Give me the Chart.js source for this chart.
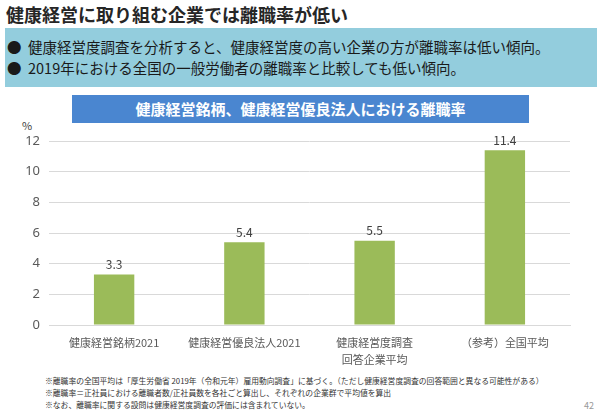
<!DOCTYPE html>
<html lang="ja">
<head>
<meta charset="utf-8">
<script src="https://cdn.jsdelivr.net/npm/chart.js@4"></script>
<style>
  body { margin: 0; width: 600px; height: 417px; background: #fff; position: relative; overflow: hidden;
         font-family: "Noto Sans CJK JP", "Noto Sans", sans-serif; color: #404040; }
  .abs { position: absolute; white-space: nowrap; }
  #title { left: 6px; top: 2px; font-size: 18px; font-weight: bold; color: #262626; line-height: 24px; }
  #points { left: 5px; top: 28px; width: 592px; height: 59px; background: #93cddd; }
  #points div { position: absolute; left: 2px; font-size: 14.5px; color: #1a1a1a; line-height: 20px; }
  #head { left: 72px; top: 95px; width: 457px; height: 28px; background: #4a86d0; color: #fff;
          font-size: 15px; font-weight: bold; text-align: center; line-height: 28px; }
  #unit { left: 22px; top: 117px; font-size: 11px; line-height: 16px; }
  #chartbox { position: absolute; left: 0; top: 120px; width: 600px; height: 250px; }
  .note { left: 45px; font-size: 7.8px; line-height: 11px; color: #333; }
  #page { left: 584px; top: 399px; font-size: 9px; color: #999; }
</style>
</head>
<body>
<div class="abs" id="title">健康経営に取り組む企業では離職率が低い</div>
<div class="abs" id="points">
  <div style="top:9px">●&nbsp;&nbsp;健康経営度調査を分析すると、健康経営度の高い企業の方が離職率は低い傾向。</div>
  <div style="top:30px">●&nbsp;&nbsp;2019年における全国の一般労働者の離職率と比較しても低い傾向。</div>
</div>
<div class="abs" id="head">健康経営銘柄、健康経営優良法人における離職率</div>
<div class="abs" id="unit">%</div>
<div id="chartbox"><canvas id="myChart" width="600" height="250"></canvas></div>
<div class="abs note" style="top:375px">※離職率の全国平均は「厚生労働省 2019年（令和元年）雇用動向調査」に基づく。（ただし健康経営度調査の回答範囲と異なる可能性がある）</div>
<div class="abs note" style="top:387px">※離職率＝正社員における離職者数/正社員数を各社ごと算出し、それぞれの企業群で平均値を算出</div>
<div class="abs note" style="top:399px">※なお、離職率に関する設問は健康経営度調査の評価には含まれていない。</div>
<div class="abs" id="page">42</div>

<script>
// chart data
const categories = [
    "健康経営銘柄2021",
    "健康経営優良法人2021",
    ["健康経営度調査", "回答企業平均"],
    "（参考）全国平均"
];
const rates = [3.3, 5.4, 5.5, 11.4];
const yTicks = [0, 2, 4, 6, 8, 10, 12];

// draw value above each bar
const valueLabels = {
    id: 'valueLabels',
    afterDatasetsDraw(chart) {
        const ctx = chart.ctx;
        const meta = chart.getDatasetMeta(0);
        ctx.save();
        ctx.font = '12px "Noto Sans CJK JP", sans-serif';
        ctx.fillStyle = '#404040';
        ctx.textAlign = 'center';
        ctx.textBaseline = 'middle';
        meta.data.forEach((bar, i) => {
            ctx.fillText(rates[i].toFixed(1), bar.x, bar.y - 10);
        });
        ctx.restore();
    }
};

const ctx = document.getElementById('myChart');
new Chart(ctx, {
    type: 'bar',
    data: {
        labels: categories,
        datasets: [{
            data: rates,
            backgroundColor: '#9bbb59',
            borderWidth: 0,
            categoryPercentage: 1,
            barPercentage: 0.31
        }]
    },
    options: {
        responsive: false,
        animation: false,
        layout: { padding: { top: 21, right: 30, left: 0, bottom: 0 } },
        plugins: {
            legend: { display: false },
            tooltip: { enabled: false }
        },
        scales: {
            x: {
                grid: { display: false, drawTicks: false },
                border: { color: '#d9d9d9' },
                ticks: {
                    color: '#595959',
                    font: { size: 11, family: '"Noto Sans CJK JP", sans-serif', lineHeight: 1.5 },
                    padding: 10,
                    maxRotation: 0,
                    autoSkip: false
                },
                afterFit: (scale) => { scale.height = 45; }
            },
            y: {
                min: yTicks[0],
                max: yTicks[yTicks.length - 1],
                grid: { color: '#d9d9d9', drawTicks: false },
                border: { display: false },
                ticks: {
                    stepSize: 2,
                    color: '#595959',
                    font: { size: 13, family: '"Noto Sans", sans-serif' },
                    padding: 9
                },
                afterFit: (scale) => { scale.width = 49; }
            }
        }
    },
    plugins: [valueLabels]
});
</script>
</body>
</html>
